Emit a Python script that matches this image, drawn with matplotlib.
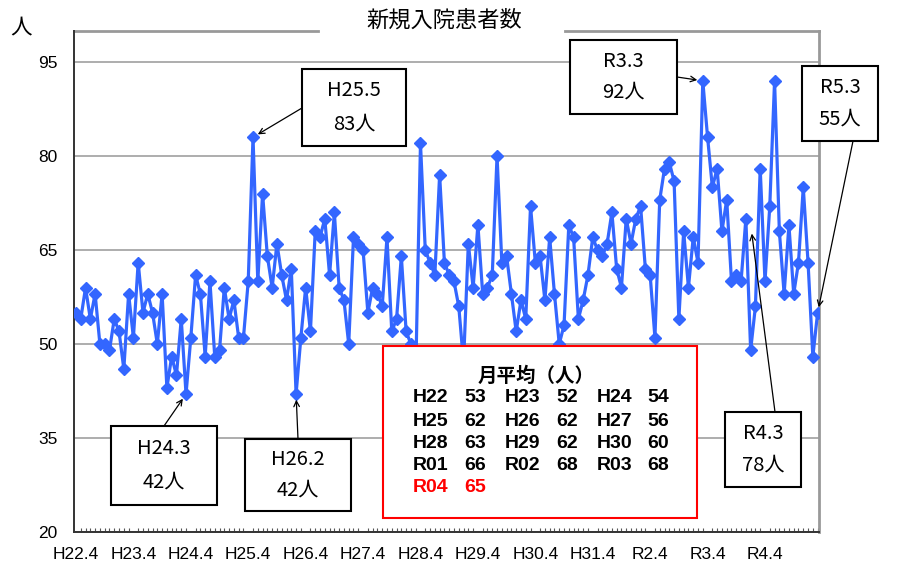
import matplotlib
matplotlib.use('Agg')
import matplotlib.pyplot as plt
from matplotlib.patches import Rectangle
import numpy as np

W, H = 906, 565

# monthly new admissions, H22.4 (Apr 2010) .. R5.3 (Mar 2023), one row per fiscal year
values = (
    [55, 54, 59, 54, 58, 50, 50, 49, 54, 52, 46, 58] +   # H22
    [51, 63, 55, 58, 55, 50, 58, 43, 48, 45, 54, 42] +   # H23
    [51, 61, 58, 48, 60, 48, 49, 59, 54, 57, 51, 51] +   # H24
    [60, 83, 60, 74, 64, 59, 66, 61, 57, 62, 42, 51] +   # H25
    [59, 52, 68, 67, 70, 61, 71, 59, 57, 50, 67, 66] +   # H26
    [65, 55, 59, 58, 56, 67, 52, 54, 64, 52, 50, 45] +   # H27
    [82, 65, 63, 61, 77, 63, 61, 60, 56, 47, 66, 59] +   # H28
    [69, 58, 59, 61, 80, 63, 64, 58, 52, 57, 54, 72] +   # H29
    [63, 64, 57, 67, 58, 50, 53, 69, 67, 54, 57, 61] +   # H30
    [67, 65, 64, 66, 71, 62, 59, 70, 66, 70, 72, 62] +   # R01
    [61, 51, 73, 78, 79, 76, 54, 68, 59, 67, 63, 92] +   # R02
    [83, 75, 78, 68, 73, 60, 61, 60, 70, 49, 56, 78] +   # R03
    [60, 72, 92, 68, 58, 69, 58, 63, 75, 63, 48, 55]     # R04
)
year_labels = ['H22.4', 'H23.4', 'H24.4', 'H25.4', 'H26.4', 'H27.4', 'H28.4',
               'H29.4', 'H30.4', 'H31.4', 'R2.4', 'R3.4', 'R4.4']
yticks = [20, 35, 50, 65, 80, 95]

avg_years = ['H22', 'H23', 'H24', 'H25', 'H26', 'H27', 'H28', 'H29', 'H30',
             'R01', 'R02', 'R03', 'R04']
avg_values = [53, 52, 54, 62, 62, 56, 63, 62, 60, 66, 68, 68, 65]

# callouts: month index, label, box in pixels (l, t, r, b), arrow start in pixels
callouts = [
    (37, 'H25.5', (302, 69, 406, 146), (302, 108)),
    (23, 'H24.3', (111, 426, 217, 505), (164, 426)),
    (46, 'H26.2', (245, 439, 351, 511), (298, 439)),
    (131, 'R3.3', (570, 40, 677, 114), (677, 77)),
    (143, 'R4.3', (725, 412, 801, 487), (775, 412)),
    (155, 'R5.3', (802, 66, 878, 141), (853, 141)),
]

plt.rcParams['font.family'] = ['Liberation Sans', 'Noto Sans CJK JP']
JP = ['Noto Sans CJK JP', 'DejaVu Sans']

def fxy(px, py):
    return px / W, 1 - py / H

fig = plt.figure(figsize=(W / 100, H / 100), dpi=100)
ax = fig.add_axes([74.3 / W, 1 - 532 / H, 745 / W, 501.3 / H])

x = np.arange(len(values))
ax.plot(x, values, color='#3366ff', lw=2.3, marker='D', ms=6.5, zorder=3)

ax.set_xlim(-0.35, len(values) - 1 + 0.35)
ax.set_ylim(20, 100)
ax.set_yticks(yticks)
ax.set_xticks(np.arange(0, len(values), 12))
ax.set_xticklabels(year_labels, fontsize=12.5)
ax.set_xticks(x, minor=True)
ax.tick_params(axis='x', which='major', length=0, pad=11)
ax.tick_params(axis='x', which='minor', length=3, direction='in', color='#555555', width=0.8)
ax.tick_params(axis='y', length=0, pad=12, labelsize=12.5)
ax.grid(axis='y', color='#a0a0a0', lw=1.2)
ax.set_axisbelow(True)

for s in ['left', 'bottom']:
    ax.spines[s].set_color('#333333')
    ax.spines[s].set_linewidth(1.4)
ax.spines['right'].set_color('#999999')
ax.spines['right'].set_linewidth(2)
ax.spines['top'].set_visible(False)
# top border broken by the title
gap_l, gap_r = (318 - 74.3) / 745, (565 - 74.3) / 745
for a, b in [(0, gap_l), (gap_r, 1)]:
    ax.plot([a, b], [1, 1], transform=ax.transAxes, color='#999999', lw=2, clip_on=False)

fig.text(*fxy(444, 20), '新規入院患者数', ha='center', va='center', fontsize=16, family=JP)
fig.text(*fxy(21, 27), '人', ha='center', va='center', fontsize=15.5, family=JP)

# callout boxes with arrows
for idx, label, (l, t, r, b), (sx, sy) in callouts:
    fig.patches.append(Rectangle(fxy(l, b), (r - l) / W, (b - t) / H, transform=fig.transFigure,
                                 facecolor='white', edgecolor='black', lw=1.5, zorder=2))
    cx = (l + r) / 2
    h = b - t
    fig.text(*fxy(cx, t + 0.285 * h), label, ha='center', va='center', fontsize=14.5, family=JP, zorder=4)
    fig.text(*fxy(cx, t + 0.71 * h), f'{values[idx]}人', ha='center', va='center', fontsize=14.5,
             family=JP, zorder=4)
    tip = (idx, values[idx])
    if label == 'R4.3':
        tip = (141.1, 68.5)  # arrow in the original lands a little off the point
    ax.annotate('', xy=tip, xycoords='data', xytext=fxy(sx, sy), textcoords='figure fraction',
                arrowprops=dict(arrowstyle='->', color='black', lw=0.9, shrinkA=0, shrinkB=4),
                annotation_clip=False)

# monthly average table
fig.patches.append(Rectangle(fxy(383, 518), (697 - 383) / W, (518 - 346) / H, transform=fig.transFigure,
                             facecolor='white', edgecolor='red', lw=1.5, zorder=2))
fig.text(*fxy(536, 376), '月平均（人）', ha='center', va='center', fontsize=14, fontweight='bold',
         family=JP, zorder=4)
row_y = [398, 421, 443, 465, 488]
col_x = [413, 464, 505, 556, 597, 647]
TB = ['Liberation Sans Narrow', 'Liberation Sans']
for k, (yr, v) in enumerate(zip(avg_years, avg_values)):
    r, c = divmod(k, 3)
    col = 'red' if k == len(avg_years) - 1 else 'black'
    fig.text(*fxy(col_x[2 * c], row_y[r]), yr, ha='left', va='center', fontsize=14,
             fontweight='bold', family=TB, color=col, zorder=4)
    fig.text(*fxy(col_x[2 * c + 1], row_y[r]), str(v), ha='left', va='center', fontsize=14,
             fontweight='bold', family=TB, color=col, zorder=4)

fig.savefig('out.png', dpi=100)
